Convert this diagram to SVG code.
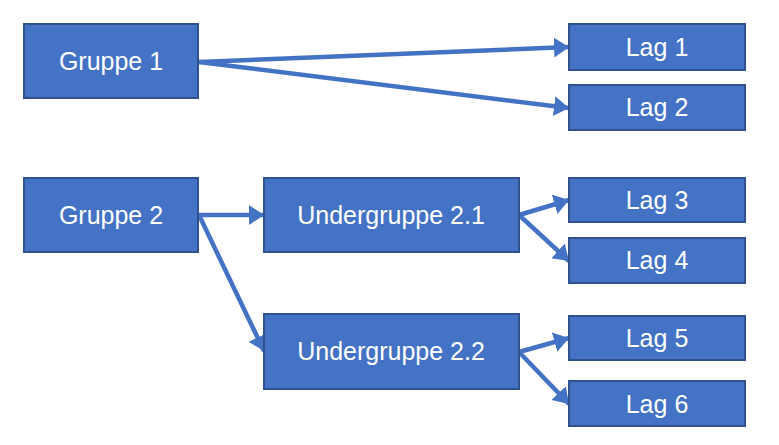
<svg xmlns="http://www.w3.org/2000/svg" width="779" height="445" viewBox="0 0 779 445">
<defs>
<style>
.box{fill:#4472C4;stroke:#2F528F;stroke-width:2}
.lbl{fill:#FFFFFF;font-family:"Liberation Sans",Arial,sans-serif;font-size:25px;text-anchor:middle}
.con{stroke:#4472C4;stroke-width:4.5;fill:none;marker-end:url(#ah)}
</style>
<marker id="ah" markerUnits="userSpaceOnUse" markerWidth="16" markerHeight="22" viewBox="0 0 16 22" refX="15" refY="11" orient="auto">
<path d="M0,1 L15,11 L0,21 Z" fill="#4472C4"/>
</marker>
</defs>
<g id="connectors">
<line class="con" x1="199" y1="62" x2="569" y2="47"/>
<line class="con" x1="199" y1="62" x2="569" y2="108"/>
<line class="con" x1="199" y1="215" x2="264" y2="215"/>
<line class="con" x1="199" y1="215" x2="264" y2="351"/>
<line class="con" x1="519" y1="215" x2="569" y2="200"/>
<line class="con" x1="519" y1="215" x2="569" y2="261"/>
<line class="con" x1="519" y1="352" x2="569" y2="338"/>
<line class="con" x1="519" y1="352" x2="569" y2="404"/>
</g>
<g id="gruppe1"><rect class="box" x="24" y="24" width="174" height="74"/><text class="lbl" x="111" y="70">Gruppe 1</text></g>
<g id="gruppe2"><rect class="box" x="24" y="178" width="174" height="74"/><text class="lbl" x="111" y="224">Gruppe 2</text></g>
<g id="undergruppe21"><rect class="box" x="264" y="178" width="255" height="74"/><text class="lbl" x="391" y="224">Undergruppe 2.1</text></g>
<g id="undergruppe22"><rect class="box" x="264" y="314" width="255" height="75"/><text class="lbl" x="391" y="360">Undergruppe 2.2</text></g>
<g id="lag1"><rect class="box" x="569" y="24" width="176" height="46"/><text class="lbl" x="657" y="56">Lag 1</text></g>
<g id="lag2"><rect class="box" x="569" y="85" width="176" height="45"/><text class="lbl" x="657" y="116">Lag 2</text></g>
<g id="lag3"><rect class="box" x="569" y="178" width="176" height="44"/><text class="lbl" x="657" y="209">Lag 3</text></g>
<g id="lag4"><rect class="box" x="569" y="238" width="176" height="45"/><text class="lbl" x="657" y="269">Lag 4</text></g>
<g id="lag5"><rect class="box" x="569" y="316" width="176" height="44"/><text class="lbl" x="657" y="347">Lag 5</text></g>
<g id="lag6"><rect class="box" x="569" y="381" width="176" height="45"/><text class="lbl" x="657" y="413">Lag 6</text></g>
</svg>
